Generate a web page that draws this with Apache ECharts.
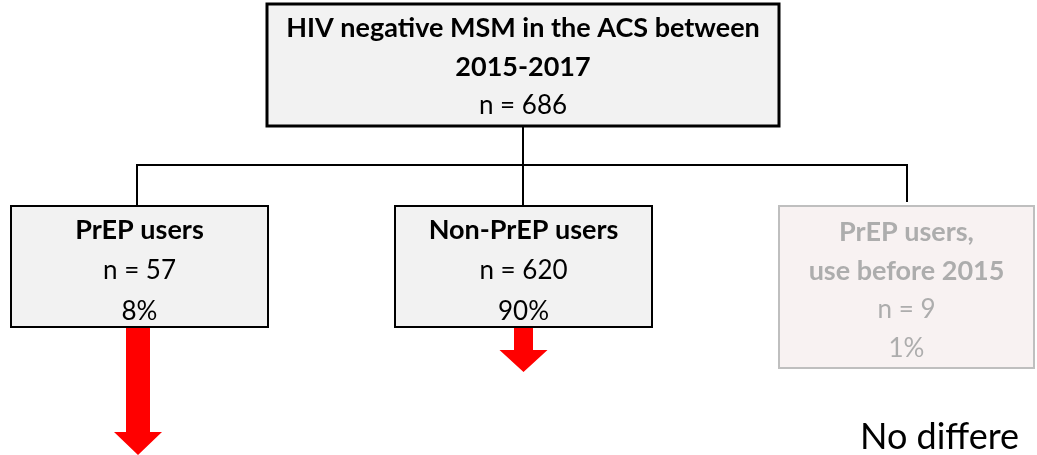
<!DOCTYPE html>
<html>
<head>
<meta charset="utf-8">
<script src="https://cdn.jsdelivr.net/npm/echarts@6/dist/echarts.min.js"></script>
<style>
html, body { margin: 0; padding: 0; background: #fff; }
#main { width: 1037px; height: 455px; }
</style>
</head>
<body>
<div id="main"></div>
<script>
// flow chart content
var nodeTitles = [
	['HIV negative MSM in the ACS between', '2015-2017'],
	['PrEP users'],
	['Non-PrEP users'],
	['PrEP users,', 'use before 2015']
];
var nodeCounts = [686, 57, 620, 9];
var nodeShares = ['', '8%', '90%', '1%'];
var footnote = 'No differe';

// layout, in pixel units of the hidden axes
var boxes = [[267, 4, 779, 126], [11, 206, 268, 327], [395, 206, 652, 327], [779, 206, 1034, 368]];
var firstLine = [28, 230, 230, 232];
var lineGap = [39, 41, 41, 39];
var connectors = [
	[[523, 126], [523, 165]],
	[[137, 206], [137, 165], [907, 165], [907, 202]],
	[[523, 165], [523, 206]]
];
// cx, top, head start, tip, shaft width, head width
var arrows = [[138, 328, 432, 455, 24, 48], [523.5, 328, 350, 372, 19, 48]];

var FONT = 'Lato';

var chart = echarts.init(document.getElementById('main'));

function renderBox(params, api) {
	var i = params.dataIndex;
	var b = boxes[i];
	var p0 = api.coord([b[0], b[1]]);
	var p1 = api.coord([b[2], b[3]]);
	var faded = i === 3;
	var children = [{
		type: 'rect',
		shape: { x: p0[0], y: p0[1], width: p1[0] - p0[0], height: p1[1] - p0[1] },
		style: { fill: faded ? '#f8f2f2' : '#f2f2f2', stroke: faded ? '#bfbfbf' : '#000', lineWidth: i === 0 ? 3 : 2 }
	}];
	var lines = nodeTitles[i].map(function (t) { return { text: t, bold: true }; });
	lines.push({ text: 'n = ' + nodeCounts[i] });
	if (nodeShares[i]) lines.push({ text: nodeShares[i] });
	var cx = (p0[0] + p1[0]) / 2;
	lines.forEach(function (l, k) {
		var y = api.coord([0, firstLine[i] + k * lineGap[i]])[1];
		children.push({
			type: 'text',
			style: {
				text: l.text, x: cx, y: y, align: 'center', verticalAlign: 'middle',
				fontFamily: FONT, fontSize: l.bold ? 27 : 26, fontWeight: l.bold ? 'bold' : 'normal',
				fill: faded ? '#adadad' : '#000'
			}
		});
	});
	return { type: 'group', children: children };
}

function renderConnector(params, api) {
	var pts = connectors[params.dataIndex].map(function (p) { return api.coord(p); });
	return { type: 'polyline', shape: { points: pts }, style: { stroke: '#000', lineWidth: 2, fill: null } };
}

function renderArrow(params, api) {
	var a = arrows[params.dataIndex];
	var cx = a[0], sw = a[4] / 2, hw = a[5] / 2;
	var pts = [
		[cx - sw, a[1]], [cx + sw, a[1]], [cx + sw, a[2]], [cx + hw, a[2]],
		[cx, a[3]], [cx - hw, a[2]], [cx - sw, a[2]]
	].map(function (p) { return api.coord(p); });
	return { type: 'polygon', shape: { points: pts }, style: { fill: '#ff0000' } };
}

function renderNote(params, api) {
	var p = api.coord([860, 437]);
	return {
		type: 'text',
		style: { text: footnote, x: p[0], y: p[1], align: 'left', verticalAlign: 'middle',
			fontFamily: FONT, fontSize: 36, fill: '#000' }
	};
}

var option = {
	animation: false,
	grid: { left: 0, right: 0, top: 0, bottom: 0 },
	xAxis: { type: 'value', min: 0, max: 1037, show: false },
	yAxis: { type: 'value', min: 0, max: 455, inverse: true, show: false },
	series: [
		{ type: 'custom', clip: false, renderItem: renderConnector, data: connectors.map(function (c, i) { return i; }) },
		{ type: 'custom', clip: false, renderItem: renderBox, data: nodeCounts },
		{ type: 'custom', clip: false, renderItem: renderArrow, data: arrows.map(function (a, i) { return i; }) },
		{ type: 'custom', clip: false, renderItem: renderNote, data: [0] }
	]
};

chart.setOption(option);
</script>
</body>
</html>
